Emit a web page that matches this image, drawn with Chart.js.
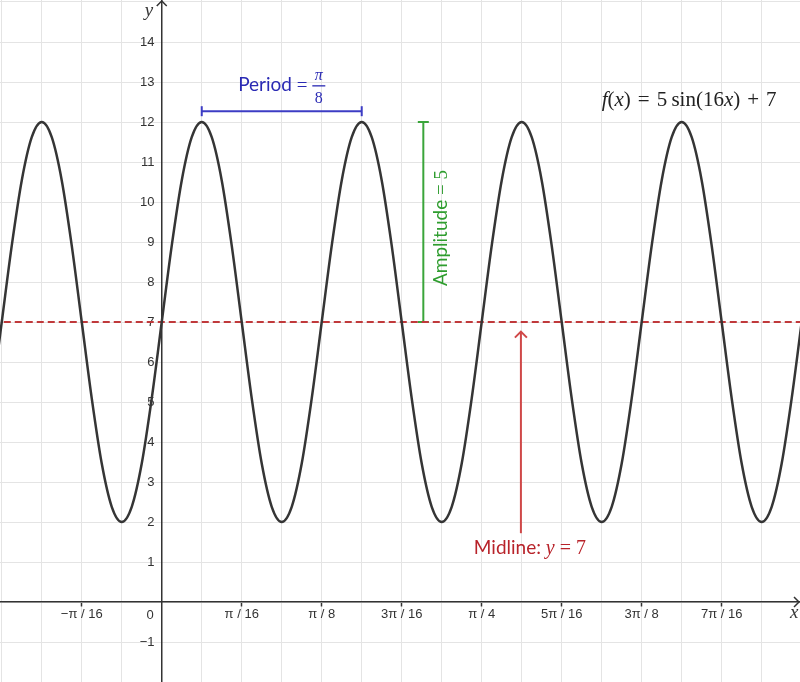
<!DOCTYPE html>
<html>
<head>
<meta charset="utf-8">
<script src="https://cdn.jsdelivr.net/npm/chart.js@4.4.0/dist/chart.umd.min.js"></script>
<style>
  body { margin: 0; background: #fff; }
  #wrap { width: 800px; height: 682px; }
</style>
</head>
<body>
<div id="wrap"><canvas id="myChart"></canvas></div>
<script>
// x is measured in units of pi/16
const xValues = [
  -2.25, -2.125, -2, -1.875, -1.75, -1.625, -1.5, -1.375, -1.25, -1.125,
  -1, -0.875, -0.75, -0.625, -0.5, -0.375, -0.25, -0.125,
  0, 0.125, 0.25, 0.375, 0.5, 0.625, 0.75, 0.875,
  1, 1.125, 1.25, 1.375, 1.5, 1.625, 1.75, 1.875,
  2, 2.125, 2.25, 2.375, 2.5, 2.625, 2.75, 2.875,
  3, 3.125, 3.25, 3.375, 3.5, 3.625, 3.75, 3.875,
  4, 4.125, 4.25, 4.375, 4.5, 4.625, 4.75, 4.875,
  5, 5.125, 5.25, 5.375, 5.5, 5.625, 5.75, 5.875,
  6, 6.125, 6.25, 6.375, 6.5, 6.625, 6.75, 6.875,
  7, 7.125, 7.25, 7.375, 7.5, 7.625, 7.75, 7.875,
  8, 8.125, 8.25
];
const fValues = [
  3.46, 5.09,
  7, 8.91, 10.54, 11.62, 12, 11.62, 10.54, 8.91, 7, 5.09, 3.46, 2.38, 2, 2.38, 3.46, 5.09,
  7, 8.91, 10.54, 11.62, 12, 11.62, 10.54, 8.91, 7, 5.09, 3.46, 2.38, 2, 2.38, 3.46, 5.09,
  7, 8.91, 10.54, 11.62, 12, 11.62, 10.54, 8.91, 7, 5.09, 3.46, 2.38, 2, 2.38, 3.46, 5.09,
  7, 8.91, 10.54, 11.62, 12, 11.62, 10.54, 8.91, 7, 5.09, 3.46, 2.38, 2, 2.38, 3.46, 5.09,
  7, 8.91, 10.54, 11.62, 12, 11.62, 10.54, 8.91, 7, 5.09, 3.46, 2.38, 2, 2.38, 3.46, 5.09,
  7, 8.91, 10.54
];

const xTickValues = [-1, 1, 2, 3, 4, 5, 6, 7];
const xTickLabels = ["−π / 16", "π / 16", "π / 8", "3π / 16", "π / 4", "5π / 16", "3π / 8", "7π / 16"];
const yTickValues = [-1, 1, 2, 3, 4, 5, 6, 7, 8, 9, 10, 11, 12, 13, 14];
const yTickLabels = ["−1", "1", "2", "3", "4", "5", "6", "7", "8", "9", "10", "11", "12", "13", "14"];

const midline = [7, 7];
const periodX = [0.5, 2.5];
const periodY = [12.27, 12.27];
const amplitudeX = [3.27, 3.27];
const amplitudeY = [7, 12];
const arrowX = [4.49, 4.49];
const arrowY = [1.72, 6.76];

const ctx = document.getElementById("myChart").getContext("2d");

const sans = "Lato";
const serif = "Liberation Serif";

// draws a row of [text, font] pieces, left to right
const drawParts = (c, parts, x, y) => {
  let cx = x;
  parts.forEach(([t, f]) => {
    c.font = f;
    c.fillText(t, cx, y);
    cx += c.measureText(t).width;
  });
  return cx;
};
const partsWidth = (c, parts) => {
  let w = 0;
  parts.forEach(([t, f]) => { c.font = f; w += c.measureText(t).width; });
  return w;
};

const extras = {
  id: "extras",
  afterDatasetsDraw(chart) {
    const c = chart.ctx;
    const { x, y } = chart.scales;
    const area = chart.chartArea;
    const px = (v) => x.getPixelForValue(v);
    const py = (v) => y.getPixelForValue(v);
    c.save();

    // axis arrow heads
    const ox = px(0), oy = py(0);
    c.strokeStyle = "#333";
    c.lineWidth = 1.5;
    c.beginPath();
    c.moveTo(ox - 5, area.top + 6); c.lineTo(ox, area.top + 1); c.lineTo(ox + 5, area.top + 6);
    c.moveTo(area.right - 6, oy - 5); c.lineTo(area.right - 1, oy); c.lineTo(area.right - 6, oy + 5);
    c.stroke();

    // axis names and origin label
    c.fillStyle = "#333";
    c.textBaseline = "alphabetic";
    c.textAlign = "left";
    c.font = "italic 19px " + serif;
    c.fillText("x", area.right - 10, oy + 16);
    c.fillText("y", ox - 17, area.top + 16);
    c.textAlign = "right";
    c.font = "13px Liberation Sans";
    c.fillText("0", ox - 8, oy + 17);
    c.textAlign = "left";

    // midline arrow head
    c.strokeStyle = "#d04848";
    c.lineWidth = 2;
    const ax = px(arrowX[1]), ay = py(arrowY[1]);
    c.beginPath();
    c.moveTo(ax - 6, ay + 6); c.lineTo(ax, ay); c.lineTo(ax + 6, ay + 6);
    c.stroke();

    // period label
    c.fillStyle = "#2a2ab4";
    const pParts = [["Period ", "19px " + sans], ["= ", "19px " + serif]];
    const fracW = 13;
    const pw = partsWidth(c, pParts) + fracW;
    const pcx = (px(periodX[0]) + px(periodX[1])) / 2;
    const pBase = py(periodY[0]) - 20;
    const fx = drawParts(c, pParts, pcx - pw / 2, pBase);
    c.textAlign = "center";
    c.font = "italic 16px " + serif;
    c.fillText("π", fx + fracW / 2, pBase - 11);
    c.font = "16px " + serif;
    c.fillText("8", fx + fracW / 2, pBase + 12);
    c.fillRect(fx, pBase - 6, fracW, 1.3);
    c.textAlign = "left";

    // formula
    c.fillStyle = "#222";
    const it = "italic 21px " + serif, rm = "21px " + serif;
    drawParts(c, [["f", it], ["(", rm], ["x", it], [")\u2004=\u20045\u2009sin(16", rm], ["x", it], [")\u2004+\u20047", rm]],
      px(5.5), py(12.4));

    // amplitude label
    c.fillStyle = "#2f9d2f";
    const aParts = [["Amplitude ", "19px " + sans], ["= 5", "19px " + serif]];
    const aw = partsWidth(c, aParts);
    c.save();
    c.translate(px(3.56), py(9.35));
    c.rotate(-Math.PI / 2);
    drawParts(c, aParts, -aw / 2, 0);
    c.restore();

    // midline label
    c.fillStyle = "#b8232a";
    const mParts = [["Midline: ", "19px " + sans], ["y", "italic 20px " + serif], [" = 7", "20px " + serif]];
    const mw = partsWidth(c, mParts);
    drawParts(c, mParts, px(arrowX[0]) + 9 - mw / 2, py(1.2));

    c.restore();
  },
};

const seg = (xs, ys) => xs.map((v, i) => ({ x: v, y: ys[i] }));

const myChart = new Chart(ctx, {
  type: "line",
  data: {
    datasets: [
      {
        data: seg(xValues, fValues),
        borderColor: "#353535",
        borderWidth: 2.5,
        pointRadius: 0,
        cubicInterpolationMode: "monotone",
      },
      {
        data: seg([xValues[0], xValues[xValues.length - 1]], midline),
        borderColor: "#c0393b",
        borderWidth: 2,
        borderDash: [7, 4],
        pointRadius: 0,
      },
      {
        data: seg(periodX, periodY),
        borderColor: "#3c3cc4",
        borderWidth: 2,
        pointStyle: "line",
        pointRotation: 90,
        pointRadius: 5,
        pointBorderWidth: 2,
        pointBorderColor: "#3c3cc4",
      },
      {
        data: seg(amplitudeX, amplitudeY),
        borderColor: "#3aa53a",
        borderWidth: 2,
        pointStyle: "line",
        pointRotation: 0,
        pointRadius: 5.5,
        pointBorderWidth: 2,
        pointBorderColor: "#3aa53a",
      },
      {
        data: seg(arrowX, arrowY),
        borderColor: "#d04848",
        borderWidth: 2,
        pointRadius: 0,
      },
    ],
  },
  options: {
    responsive: true,
    maintainAspectRatio: false,
    animation: false,
    events: [],
    layout: { padding: 0, autoPadding: false },
    plugins: {
      legend: { display: false },
      tooltip: { enabled: false },
    },
    scales: {
      x: {
        type: "linear",
        min: -2.022,
        max: 7.979,
        position: { y: 0 },
        afterFit: (s) => { s.height = 0; s.paddingLeft = 0; s.paddingRight = 0; },
        grid: {
          color: "#e4e4e4",
          lineWidth: 1,
          drawTicks: true,
          tickLength: 4,
          tickWidth: 1.5,
          tickColor: (c) => (c.tick && xTickValues.includes(c.tick.value) ? "#333" : "rgba(0,0,0,0)"),
        },
        border: { color: "#333", width: 1.5 },
        ticks: {
          stepSize: 0.5,
          includeBounds: false,
          autoSkip: false,
          maxRotation: 0,
          padding: 1,
          color: "#333",
          font: { family: "Liberation Sans", size: 13 },
          callback: (v) => {
            const i = xTickValues.indexOf(v);
            return i >= 0 ? xTickLabels[i] : "";
          },
        },
      },
      y: {
        type: "linear",
        min: -2,
        max: 15.05,
        position: { x: 0 },
        afterFit: (s) => { s.width = 0; s.paddingTop = 0; s.paddingBottom = 0; },
        grid: { color: "#e4e4e4", lineWidth: 1, drawTicks: false },
        border: { color: "#333", width: 1.5 },
        ticks: {
          stepSize: 1,
          includeBounds: false,
          autoSkip: false,
          color: "#333",
          font: { family: "Liberation Sans", size: 13 },
          // object-positioned y axes ignore tick padding, so a figure space keeps the gap
          callback: (v) => {
            const i = yTickValues.indexOf(v);
            return i >= 0 ? yTickLabels[i] + "\u2007" : "";
          },
        },
      },
    },
  },
  plugins: [extras],
});
</script>
</body>
</html>
